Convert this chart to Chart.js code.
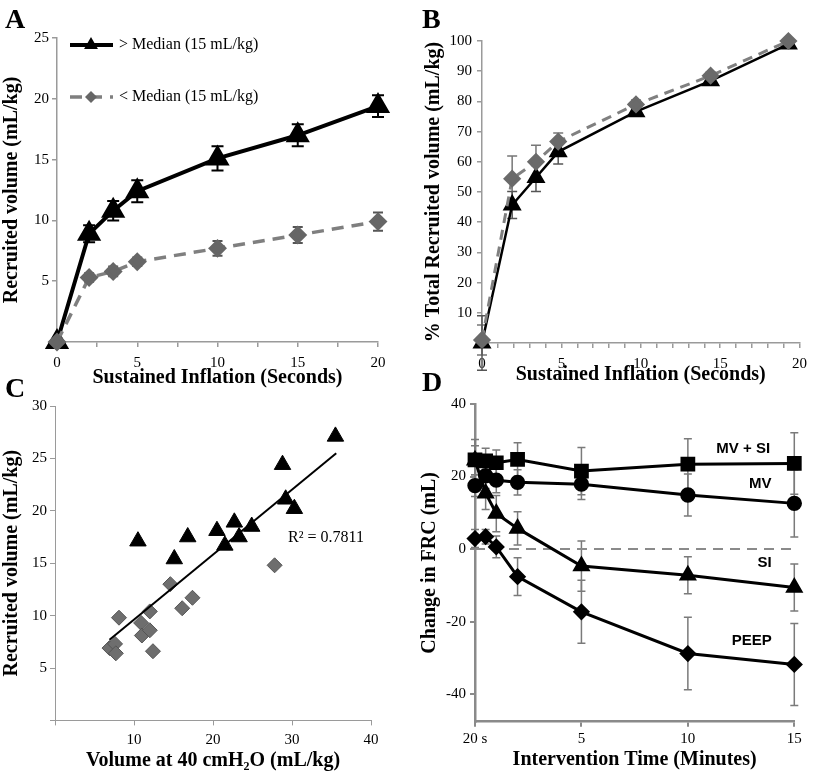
<!DOCTYPE html>
<html lang="en">
  <head>
    <meta charset="UTF-8" />
    <title>Recruited volume after sustained inflation</title>
    <style>
      body {
        margin: 0;
        width: 814px;
        height: 780px;
        position: relative;
        overflow: hidden;
        background: #fff;
      }
      canvas {
        position: absolute;
      }
      .letter {
        position: absolute;
        font: bold 28px "Liberation Serif", "Times New Roman", serif;
        line-height: 28px;
        color: #000;
      }
    </style>
    <script src="https://cdn.jsdelivr.net/npm/chart.js"></script>
  </head>
  <body>
    <canvas id="chartA" width="405" height="400" style="left: 0; top: 0"></canvas>
    <canvas id="chartB" width="409" height="400" style="left: 405px; top: 0"></canvas>
    <canvas id="chartC" width="405" height="400" style="left: 0; top: 380px"></canvas>
    <canvas id="chartD" width="409" height="400" style="left: 405px; top: 380px"></canvas>
    <div class="letter" style="left: 5px; top: 374px">C</div>
    <div class="letter" style="left: 5px; top: 5px">A</div>
    <div class="letter" style="left: 422px; top: 5px">B</div>
    <div class="letter" style="left: 422px; top: 368px">D</div>

    <script>
      // ---- Panel A: recruited volume vs sustained inflation time ----
      const aSeconds = [0, 2, 3.5, 5, 10, 15, 20];
      const aHigh = [0, 8.9, 10.8, 12.4, 15.1, 17.0, 19.4];
      const aHighErr = [0, 0.7, 0.8, 0.9, 1.0, 0.9, 0.9];
      const aLow = [0, 5.3, 5.8, 6.6, 7.7, 8.8, 9.9];
      const aLowErr = [0, 0.35, 0.4, 0.35, 0.6, 0.65, 0.75];
      const aYTicks = [0, 5, 10, 15, 20, 25];
      const aXTicks = [0, 2.5, 5, 7.5, 10, 12.5, 15, 17.5, 20];

      // ---- Panel B: % of total recruited volume ----
      const bSeconds = [0, 1.9, 3.4, 4.8, 9.7, 14.4, 19.3];
      const bHigh = [0, 45.7, 54.8, 63.3, 76.6, 86.8, 99];
      const bHighErr = [9, 4.5, 4.6, 4.0, 1.5, 1.0, 0.5];
      const bLow = [1, 54.4, 60, 66.7, 79, 88.5, 100];
      const bLowErr = [5, 7.5, 5.5, 2.8, 1.5, 1.2, 0.3];
      const bYTicks = [0, 10, 20, 30, 40, 50, 60, 70, 80, 90, 100];
      const bXTicks = [0, 1, 2, 3, 4, 5, 6, 7, 8, 9, 10, 11, 12, 13, 14, 15, 16, 17, 18, 19, 20];

      // ---- Panel C: recruited volume vs volume at 40 cmH2O ----
      const cHighX = [10.5, 15.1, 16.8, 20.5, 21.5, 22.7, 23.3, 24.9, 28.8, 29.2, 30.3, 35.5];
      const cHighY = [17.1, 15.4, 17.5, 18.1, 16.7, 18.9, 17.5, 18.5, 24.4, 21.1, 20.2, 27.1];
      const cLowX = [6.9, 7.6, 7.7, 8.1, 10.9, 11.0, 12.0, 12.0, 12.4, 14.6, 16.1, 17.4, 27.8];
      const cLowY = [6.9, 7.3, 6.4, 9.8, 9.3, 8.1, 10.4, 8.6, 6.6, 13.0, 10.7, 11.7, 14.8];
      const cTrendX = [6.9, 35.6];
      const cTrendY = [7.7, 25.5];
      const cYTicks = [0, 5, 10, 15, 20, 25, 30];
      const cXTicks = [0, 10, 20, 30, 40];

      // ---- Panel D: change in FRC over intervention time ----
      const dMinutes = [0, 0.5, 1, 2, 5, 10, 15];
      const dMvSi = [24.6, 24.3, 23.8, 24.7, 21.5, 23.4, 23.6];
      const dMvSiErr = [5.6, 3.5, 3.5, 4.6, 6.5, 7, 8.5];
      const dMv = [17.5, 20.2, 19.0, 18.4, 17.9, 14.9, 12.6];
      const dMvErr = [3, 3.5, 3.5, 3.5, 4.2, 5.8, 9.3];
      const dSi = [24.5, 15.4, 9.8, 5.7, -4.7, -7.2, -10.6];
      const dSiErr = [4, 4.5, 5, 4.6, 6.9, 5.1, 6.5];
      const dPeep = [2.9, 3.4, 0.6, -7.6, -17.3, -28.8, -31.8];
      const dPeepErr = [2.5, 2, 3, 5.2, 8.7, 10, 11.3];
      const dYTicks = [-40, -20, 0, 20, 40];
      const dXTicks = [0, 5, 10, 15];

      const SERIF = "'Liberation Serif', 'Times New Roman', serif";
      const SANS = "'Liberation Sans', Arial, sans-serif";

      const points = (xs, ys) => xs.map((x, i) => ({ x: x, y: ys[i] }));

      // vertical error bars with caps, drawn under the markers
      const errorBars = {
        id: "errorBars",
        beforeDatasetsDraw(chart) {
          const ctx = chart.ctx;
          const xs = chart.scales.x;
          const ys = chart.scales.y;
          chart.data.datasets.forEach((ds) => {
            if (!ds.errors) return;
            ctx.save();
            ctx.strokeStyle = ds.errorColor || "#000";
            ctx.lineWidth = ds.errorWidth || 1.5;
            const cap = ds.errorCap || 5;
            ds.data.forEach((p, j) => {
              const e = ds.errors[j];
              if (!e) return;
              const x = xs.getPixelForValue(p.x);
              const y1 = ys.getPixelForValue(p.y + e);
              const y2 = ys.getPixelForValue(p.y - e);
              ctx.beginPath();
              ctx.moveTo(x, y1);
              ctx.lineTo(x, y2);
              ctx.moveTo(x - cap, y1);
              ctx.lineTo(x + cap, y1);
              ctx.moveTo(x - cap, y2);
              ctx.lineTo(x + cap, y2);
              ctx.stroke();
            });
            ctx.restore();
          });
        },
      };

      function axis(o) {
        return {
          type: "linear",
          min: o.min,
          max: o.max,
          afterBuildTicks: (s) => {
            s.ticks = o.ticks.map((v) => ({ value: v }));
          },
          afterFit: (s) => {
            if (s.isHorizontal()) s.height = o.size;
            else s.width = o.size;
          },
          border: { color: o.lineColor || "#9a9a9a", width: o.lineWidth || 1.5 },
          grid: {
            drawOnChartArea: false,
            drawTicks: true,
            tickLength: 5,
            color: o.lineColor || "#9a9a9a",
            lineWidth: o.tickWidth || 1.5,
          },
          ticks: {
            autoSkip: false,
            maxRotation: 0,
            padding: o.tickPad == null ? 3 : o.tickPad,
            color: "#000",
            font: { family: SERIF, size: 15 },
            callback: o.label,
          },
          title: {
            display: true,
            text: o.title,
            color: "#000",
            font: { family: SERIF, size: 20, weight: "bold" },
            padding: o.titlePad,
          },
        };
      }

      function baseOptions(pad, xAxis, yAxis) {
        return {
          responsive: false,
          animation: false,
          layout: { padding: pad },
          plugins: { legend: { display: false }, tooltip: { enabled: false } },
          scales: { x: xAxis, y: yAxis },
        };
      }

      const hideZero = (v) => (v === 0 ? "" : String(v));
      const everyFive = (v) => (v % 5 === 0 ? String(v) : "");

      function triangle(ctx, x, y, r) {
        ctx.beginPath();
        ctx.moveTo(x, y - r);
        ctx.lineTo(x + r * 0.866, y + r * 0.5);
        ctx.lineTo(x - r * 0.866, y + r * 0.5);
        ctx.closePath();
        ctx.fill();
      }
      function diamond(ctx, x, y, r) {
        ctx.beginPath();
        ctx.moveTo(x, y - r);
        ctx.lineTo(x + r, y);
        ctx.lineTo(x, y + r);
        ctx.lineTo(x - r, y);
        ctx.closePath();
        ctx.fill();
      }

      // legend drawn inside panel A
      const legendA = {
        id: "legendA",
        afterDraw(chart) {
          const ctx = chart.ctx;
          ctx.save();
          ctx.lineWidth = 4;
          ctx.strokeStyle = "#000";
          ctx.fillStyle = "#000";
          ctx.beginPath();
          ctx.moveTo(70, 45);
          ctx.lineTo(113, 45);
          ctx.stroke();
          triangle(ctx, 91, 45, 8);
          ctx.strokeStyle = "#7f7f7f";
          ctx.fillStyle = "#666";
          ctx.lineWidth = 3.5;
          ctx.setLineDash([12, 8]);
          ctx.beginPath();
          ctx.moveTo(70, 97);
          ctx.lineTo(113, 97);
          ctx.stroke();
          ctx.setLineDash([]);
          diamond(ctx, 91, 97, 6);
          ctx.fillStyle = "#000";
          ctx.font = "16px " + SERIF;
          ctx.textBaseline = "middle";
          ctx.fillText("> Median (15 mL/kg)", 119, 45);
          ctx.fillText("< Median (15 mL/kg)", 119, 97);
          ctx.restore();
        },
      };

      new Chart(document.getElementById("chartA"), {
        type: "scatter",
        data: {
          datasets: [
            {
              data: points(aSeconds, aLow),
              showLine: true,
              clip: false,
              borderColor: "#7f7f7f",
              borderWidth: 3.5,
              borderDash: [12, 8],
              pointStyle: "rectRot",
              pointRadius: 7,
              pointBackgroundColor: "#666",
              pointBorderColor: "#666",
              errors: aLowErr,
              errorColor: "#555",
              errorWidth: 2,
              errorCap: 5,
            },
            {
              data: points(aSeconds, aHigh),
              showLine: true,
              clip: false,
              borderColor: "#000",
              borderWidth: 4,
              pointStyle: "triangle",
              pointRadius: 10,
              pointBackgroundColor: "#000",
              pointBorderColor: "#000",
              errors: aHighErr,
              errorColor: "#000",
              errorWidth: 2,
              errorCap: 6,
            },
          ],
        },
        options: baseOptions(
          { left: 0, top: 38, right: 27, bottom: 0 },
          axis({ min: 0, max: 20, ticks: aXTicks, size: 58, tickPad: 7, label: everyFive, title: "Sustained Inflation (Seconds)", titlePad: { top: 0, bottom: 10 } }),
          axis({ min: 0, max: 25, ticks: aYTicks, size: 57, label: hideZero, title: "Recruited volume (mL/kg)", titlePad: { top: 0, bottom: 0 } })
        ),
        plugins: [errorBars, legendA],
      });

      new Chart(document.getElementById("chartB"), {
        type: "scatter",
        data: {
          datasets: [
            {
              data: points(bSeconds, bLow),
              showLine: true,
              clip: false,
              borderColor: "#808080",
              borderWidth: 3,
              borderDash: [10, 7],
              pointStyle: "rectRot",
              pointRadius: 7,
              pointBackgroundColor: "#6a6a6a",
              pointBorderColor: "#6a6a6a",
              errors: bLowErr,
              errorColor: "#777",
              errorWidth: 1.5,
              errorCap: 5,
            },
            {
              data: points(bSeconds, bHigh),
              showLine: true,
              clip: false,
              borderColor: "#000",
              borderWidth: 2.5,
              pointStyle: "triangle",
              pointRadius: 8.5,
              pointBackgroundColor: "#000",
              pointBorderColor: "#000",
              errors: bHighErr,
              errorColor: "#555",
              errorWidth: 1.5,
              errorCap: 5,
            },
          ],
        },
        options: baseOptions(
          { left: 0, top: 41, right: 10, bottom: 0 },
          axis({ min: 0, max: 20, ticks: bXTicks, size: 57, tickPad: 7, label: everyFive, title: "Sustained Inflation (Seconds)", titlePad: { top: 0, bottom: 13 } }),
          axis({ min: 0, max: 100, ticks: bYTicks, size: 77, tickPad: 5, label: hideZero, title: "% Total Recruited volume (mL/kg)", titlePad: { top: 17, bottom: 0 } })
        ),
        plugins: [errorBars],
      });

      const r2Note = {
        id: "r2Note",
        afterDraw(chart) {
          const ctx = chart.ctx;
          ctx.save();
          ctx.fillStyle = "#000";
          ctx.font = "16px " + SERIF;
          ctx.textBaseline = "middle";
          ctx.fillText("R² = 0.7811", chart.scales.x.getPixelForValue(29.5), chart.scales.y.getPixelForValue(17.4));
          ctx.restore();
        },
      };

      new Chart(document.getElementById("chartC"), {
        type: "scatter",
        data: {
          datasets: [
            {
              data: points(cTrendX, cTrendY),
              showLine: true,
              borderColor: "#000",
              borderWidth: 2,
              pointRadius: 0,
            },
            {
              data: points(cHighX, cHighY),
              clip: false,
              pointStyle: "triangle",
              pointRadius: 9.5,
              pointBackgroundColor: "#000",
              pointBorderColor: "#000",
            },
            {
              data: points(cLowX, cLowY),
              clip: false,
              pointStyle: "rectRot",
              pointRadius: 7.5,
              pointBackgroundColor: "#6e6e6e",
              pointBorderColor: "#555",
              pointBorderWidth: 1,
            },
          ],
        },
        options: baseOptions(
          { left: 0, top: 26, right: 34, bottom: 0 },
          axis({ min: 0, max: 40, ticks: cXTicks, size: 59.6, tickPad: 6, lineWidth: 1, tickWidth: 1, label: hideZero, title: "Volume at 40 cmH₂O (mL/kg)", titlePad: { top: 0, bottom: 7 } }),
          axis({ min: 0, max: 30, ticks: cYTicks, size: 55, lineWidth: 1, tickWidth: 1, label: hideZero, title: "Recruited volume (mL/kg)", titlePad: { top: 0, bottom: 0 } })
        ),
        plugins: [r2Note],
      });

      const dNotes = { text: ["MV + SI", "MV", "SI", "PEEP"], x: [12.6, 13.4, 13.6, 13.0], y: [27.6, 17.9, -3.9, -25.4] };
      const panelDExtras = {
        id: "panelDExtras",
        beforeDatasetsDraw(chart) {
          const ctx = chart.ctx;
          const xs = chart.scales.x;
          const y0 = chart.scales.y.getPixelForValue(0);
          ctx.save();
          ctx.strokeStyle = "#8a8a8a";
          ctx.lineWidth = 2;
          ctx.setLineDash([10, 7]);
          ctx.beginPath();
          ctx.moveTo(xs.getPixelForValue(0), y0);
          ctx.lineTo(xs.getPixelForValue(15), y0);
          ctx.stroke();
          ctx.restore();
        },
        afterDraw(chart) {
          const ctx = chart.ctx;
          ctx.save();
          ctx.fillStyle = "#000";
          ctx.font = "bold 15px " + SANS;
          ctx.textAlign = "center";
          ctx.textBaseline = "middle";
          dNotes.text.forEach((t, i) => {
            ctx.fillText(t, chart.scales.x.getPixelForValue(dNotes.x[i]), chart.scales.y.getPixelForValue(dNotes.y[i]));
          });
          ctx.restore();
        },
      };

      function dSeries(values, errs, style, radius) {
        return {
          data: points(dMinutes, values),
          showLine: true,
          clip: false,
          borderColor: "#000",
          borderWidth: 3,
          pointStyle: style,
          pointRadius: radius,
          pointBackgroundColor: "#000",
          pointBorderColor: "#000",
          errors: errs,
          errorColor: "#7a7a7a",
          errorWidth: 1.5,
          errorCap: 4,
        };
      }

      new Chart(document.getElementById("chartD"), {
        type: "scatter",
        data: {
          datasets: [
            dSeries(dMvSi, dMvSiErr, "rect", 8.3),
            dSeries(dMv, dMvErr, "circle", 6.2),
            dSeries(dSi, dSiErr, "triangle", 7.5),
            dSeries(dPeep, dPeepErr, "rectRot", 6.5),
          ],
        },
        options: baseOptions(
          { left: 0, top: 24, right: 19.7, bottom: 0 },
          axis({ min: 0, max: 15, ticks: dXTicks, size: 58.3, lineColor: "#8a8a8a", lineWidth: 2.5, tickWidth: 2, label: (v) => (v === 0 ? "20 s" : String(v)), title: "Intervention Time (Minutes)", titlePad: { top: 0, bottom: 8 } }),
          axis({ min: -47.6, max: 40, ticks: dYTicks, size: 70, lineColor: "#8a8a8a", lineWidth: 2.5, tickWidth: 2, tickPad: 4, label: (v) => String(v), title: "Change in FRC (mL)", titlePad: { top: 13, bottom: 0 } })
        ),
        plugins: [errorBars, panelDExtras],
      });
    </script>
  </body>
</html>
